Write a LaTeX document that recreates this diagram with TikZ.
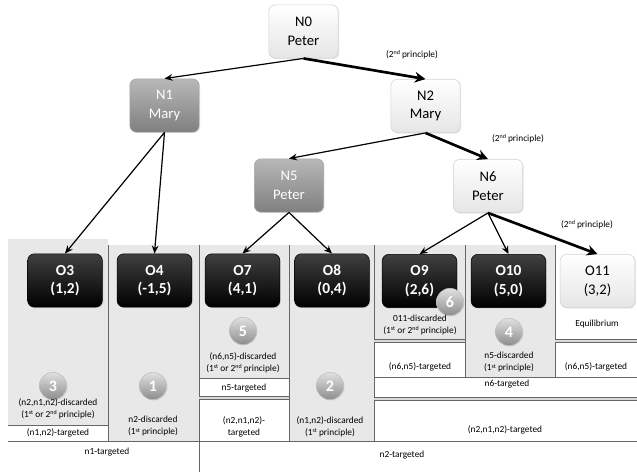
\documentclass[tikz,border=0pt]{standalone}
\usepackage{fontspec}
\setmainfont{Carlito}
\usetikzlibrary{arrows.meta,shadows}

\newcommand\ordmark[1]{\raisebox{0.6ex}{\fontsize{4.5}{5}\selectfont #1}}

\tikzset{
  mover/.style={rounded corners=5pt, minimum width=52pt, minimum height=40pt, align=center,
    font=\fontsize{11}{14}\selectfont,
    drop shadow={opacity=0.2, shadow xshift=0.8pt, shadow yshift=-0.8pt}},
  active/.style={mover, draw=black!18, top color=white, bottom color=black!10, text=black},
  passive/.style={mover, draw=black!35, top color=black!28, bottom color=black!50, text=white},
  outcome/.style={mover, minimum width=56pt, draw=black, top color=black!75, bottom color=black,
    text=white, font=\fontsize{11.5}{14}\selectfont\bfseries},
  equil/.style={active, minimum width=56pt},
  ballnum/.style={circle, minimum size=20.5pt, inner sep=0pt, draw=black!25, top color=black!12,
    bottom color=black!45, text=white, font=\fontsize{12}{12}\selectfont\bfseries,
    drop shadow={opacity=0.2, shadow xshift=0.6pt, shadow yshift=-0.6pt}},
  note/.style={align=center, inner sep=0pt, font=\fontsize{7}{9}\selectfont},
  cell/.style={fill=black!9},
  rule/.style={draw=black!60, line width=0.6pt},
  duo/.style={draw=black!60, double=black!15, double distance=1.5pt, line width=0.5pt},
  move/.style={-{Stealth[length=6pt,width=5pt]}, line width=0.9pt},
  best/.style={-{Stealth[length=8pt,width=8pt]}, line width=2pt}
}

\begin{document}
\begin{tikzpicture}[x=0.75pt,y=-0.75pt]

\useasboundingbox (0,0) rectangle (637,474);

% grey columns
\fill[cell] (8,239) rectangle (108,425);
\fill[cell] (108,245) rectangle (199,441);
\fill[cell] (199,245) rectangle (289,378);
\fill[cell] (289,245) rectangle (374,441);
\fill[cell] (374,245) rectangle (465,340);
\fill[cell] (465,245) rectangle (555,377);

% table rules
\draw[rule] (108,245) -- (108,441);
\draw[rule] (199,245) -- (199,472);
\draw[rule] (289,245) -- (289,441);
\draw[rule] (374,245) -- (374,441);
\draw[rule] (465,245) -- (465,377);
\draw[rule] (555,245) -- (555,377);

\draw[rule] (8,425) -- (108,425);
\draw[rule] (8,441) -- (637,441);
\draw[rule] (199,378) -- (289,378);
\draw[rule] (374,377) -- (637,377);

\draw[duo] (199,398) -- (289,398);
\draw[duo] (374,399) -- (637,399);
\draw[duo] (374,341) -- (465,341);
\draw[duo] (555,341) -- (637,341);

% decision nodes
\node[active]  (N0) at (303.5,31.5) {N0\\Peter};
\node[passive] (N1) at (164.5,105.5) {N1\\Mary};
\node[active]  (N2) at (425.5,106) {N2\\Mary};
\node[passive] (N5) at (289,185.5) {N5\\Peter};
\node[active]  (N6) at (488,186) {N6\\Peter};

% outcomes
\node[outcome] (O3)  at (65,280.5)  {O3\\(1,2)};
\node[outcome] (O4)  at (154.5,280.5) {O4\\(-1,5)};
\node[outcome] (O7)  at (242.5,280.5) {O7\\(4,1)};
\node[outcome] (O8)  at (332,280.5) {O8\\(0,4)};
\node[outcome] (O9)  at (419.5,281) {O9\\(2,6)};
\node[outcome] (O10) at (508.5,281) {O10\\(5,0)};
\node[equil]   (O11) at (597.5,281) {O11\\(3,2)};

% moves
\draw[move] (N0.south) -- (N1.north);
\draw[best] (N0.south) -- (N2.north);
\draw[move] (N2.south) -- (N5.north);
\draw[best] (N2.south) -- (N6.north);
\draw[move] (N1.south) -- (O3.north);
\draw[move] (N1.south) -- (O4.north);
\draw[move] (N5.south) -- (O7.north);
\draw[move] (N5.south) -- (O8.north);
\draw[move] (N6.south) -- (O9.north);
\draw[move] (N6.south) -- (O10.north);
\draw[best] (N6.south) -- (O11.north);

\node[note] (p02) at (412,55)  {(2\ordmark{nd} principle)};
\node[note] (p26) at (518,139) {(2\ordmark{nd} principle)};
\node[note] (p611) at (587,225) {(2\ordmark{nd} principle)};

% elimination steps
\node[ballnum] (s1) at (153,386) {1};
\node[ballnum] (s2) at (330,386) {2};
\node[ballnum] (s3) at (53,386)  {3};
\node[ballnum] (s4) at (509,332) {4};
\node[ballnum] (s5) at (243,331) {5};
\node[ballnum] (s6) at (450,302) {6};

% column notes
\node[note] (d3) at (58,409) {(n2,n1,n2)-discarded\\(1\ordmark{st} or 2\ordmark{nd} principle)};
\node[note] (t3) at (58,433) {(n1,n2)-targeted};
\node[note] (d1) at (153,426.5) {n2-discarded\\(1\ordmark{st} principle)};
\node[note] (d5) at (243,362.5) {(n6,n5)-discarded\\(1\ordmark{st} or 2\ordmark{nd} principle)};
\node[note] (t5) at (244,388) {n5-targeted};
\node[note] (t7) at (244,426.5) {(n2,n1,n2)-\\targeted};
\node[note] (d2) at (330,426.5) {(n1,n2)-discarded\\(1\ordmark{st} principle)};
\node[note] (d6) at (420,325) {011-discarded\\(1\ordmark{st} or 2\ordmark{nd} principle)};
\node[note] (t9) at (420,367) {(n6,n5)-targeted};
\node[note] (d4) at (509,362.5) {n5-discarded\\(1\ordmark{st} principle)};
\node[note] (eq) at (597,324) {Equilibrium};
\node[note] (t11) at (596,367) {(n6,n5)-targeted};
\node[note] (t6) at (507,384) {n6-targeted};
\node[note] (t2) at (505,430) {(n2,n1,n2)-targeted};
\node[note] (n1t) at (107,452) {n1-targeted};
\node[note] (n2t) at (402,455) {n2-targeted};

\end{tikzpicture}
\end{document}
